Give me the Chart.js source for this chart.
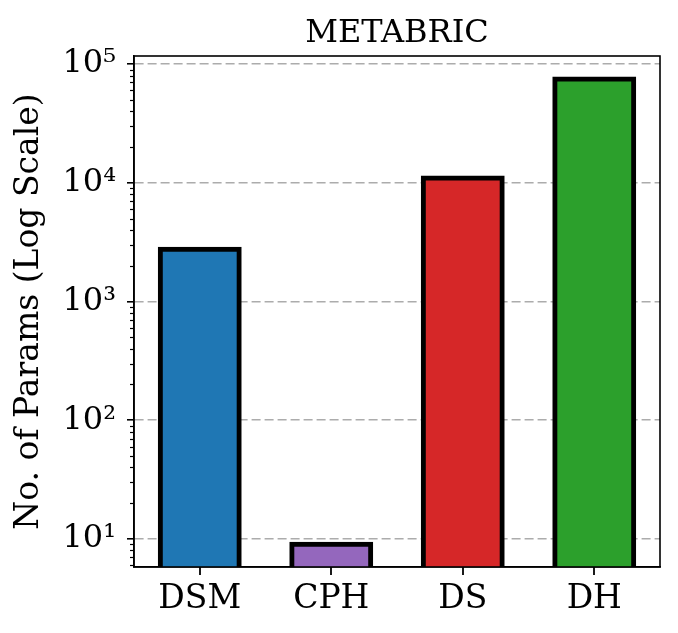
<!DOCTYPE html>
<html>
<head>
<meta charset="utf-8">
<script src="https://cdn.jsdelivr.net/npm/chart.js@4"></script>
<style>
    html, body { margin: 0; padding: 0; background: #fff; }
    #wrap { width: 678px; height: 633px; }
</style>
</head>
<body>
<div id="wrap"><canvas id="paramsChart"></canvas></div>
<script>
const chartTitle = "METABRIC";
const models = ["DSM", "CPH", "DS", "DH"];
const paramCounts = [2750, 9, 11000, 75000];
const barColors = ["#1f77b4", "#9467bd", "#d62728", "#2ca02c"];
const majorTicks = [10, 100, 1000, 10000, 100000];
const yMin = 5.8;
const yMax = 117000;

const FONT = "'DejaVu Serif', serif";
const SUP = { "0": "\u2070", "1": "\u00b9", "2": "\u00b2", "3": "\u00b3", "4": "\u2074", "5": "\u2075", "6": "\u2076", "7": "\u2077", "8": "\u2078", "9": "\u2079" };

function powLabel(v) {
    let e = String(Math.round(Math.log10(v)));
    return "10" + e.split("").map(c => SUP[c]).join("");
}

// frame on all four sides, category ticks, minor log ticks, title over the axes
const framePlugin = {
    id: "frame",
    afterDraw(chart) {
        const ctx = chart.ctx;
        const a = chart.chartArea;
        const x = chart.scales.x;
        const y = chart.scales.y;
        ctx.save();
        ctx.strokeStyle = "#000";

        ctx.lineWidth = 1.8;
        for (let i = 0; i < models.length; i++) {
            let px = Math.round(x.getPixelForValue(i));
            ctx.beginPath();
            ctx.moveTo(px, a.bottom);
            ctx.lineTo(px, a.bottom + 8);
            ctx.stroke();
        }

        ctx.lineWidth = 1.2;
        for (let d = 1; d <= 100000; d *= 10) {
            for (let k = 2; k <= 9; k++) {
                let v = d * k;
                if (v < yMin || v > yMax) continue;
                let py = Math.round(y.getPixelForValue(v)) + 0.5;
                ctx.beginPath();
                ctx.moveTo(a.left, py);
                ctx.lineTo(a.left - 4, py);
                ctx.stroke();
            }
        }

        ctx.lineWidth = 1.6;
        ctx.strokeRect(a.left, a.top, a.right - a.left, a.bottom - a.top);

        ctx.fillStyle = "#000";
        ctx.font = "32px " + FONT;
        ctx.textAlign = "center";
        ctx.textBaseline = "alphabetic";
        ctx.fillText(chartTitle, (a.left + a.right) / 2, 42);
        ctx.restore();
    }
};

new Chart(document.getElementById("paramsChart"), {
    type: "bar",
    data: {
        labels: models,
        datasets: [{
            data: paramCounts,
            backgroundColor: barColors,
            borderColor: "#000",
            borderWidth: 5,
            borderSkipped: "start",
            inflateAmount: 2.5,
            barPercentage: 0.6,
            categoryPercentage: 1.0
        }]
    },
    options: {
        responsive: true,
        maintainAspectRatio: false,
        animation: false,
        layout: {
            padding: { top: 56, right: 18, bottom: 0, left: 0 }
        },
        plugins: {
            legend: { display: false },
            title: { display: false },
            tooltip: { enabled: false }
        },
        scales: {
            x: {
                afterFit: (scale) => { scale.height = 66; },
                grid: {
                    display: false,
                    drawTicks: false
                },
                border: { display: true, color: "#000", width: 1.6 },
                ticks: {
                    color: "#000",
                    font: { family: FONT, size: 33 },
                    padding: 13
                }
            },
            y: {
                type: "logarithmic",
                min: yMin,
                max: yMax,
                afterFit: (scale) => { scale.width = 134; },
                afterBuildTicks: (scale) => {
                    scale.ticks = majorTicks.map(v => ({ value: v, major: true }));
                },
                grid: {
                    color: "#acacac",
                    lineWidth: 1.6,
                    drawTicks: true,
                    tickLength: 7,
                    tickColor: "#000",
                    tickWidth: 1.6,
                    tickBorderDash: []
                },
                border: { display: true, color: "#000", width: 1.6, dash: [9, 4] },
                ticks: {
                    autoSkip: false,
                    color: "#000",
                    font: { family: FONT, size: 32 },
                    padding: 11,
                    callback: (v) => powLabel(v)
                },
                title: {
                    display: true,
                    text: "No. of Params (Log Scale)",
                    color: "#000",
                    font: { family: FONT, size: 33 },
                    padding: { top: 10, bottom: 0 }
                }
            }
        }
    },
    plugins: [framePlugin]
});
</script>
</body>
</html>
